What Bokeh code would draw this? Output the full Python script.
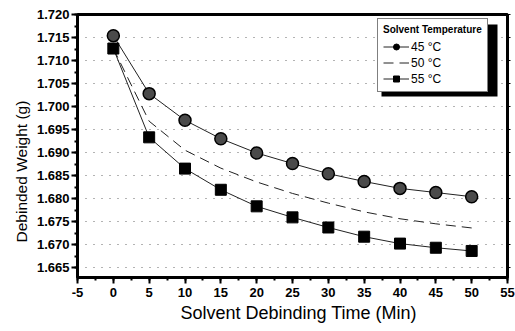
from bokeh.plotting import figure
from bokeh.models import (Range1d, LinearAxis, SingleIntervalTicker, NumeralTickFormatter, Legend,
                          LegendItem, BoxAnnotation, CustomJSTickFormatter, Title)
from bokeh.embed import file_html
from bokeh.resources import INLINE

time_min = [0, 5, 10, 15, 20, 25, 30, 35, 40, 45, 50]
w45 = [1.7154, 1.7028, 1.6970, 1.6930, 1.6899, 1.6876, 1.6854, 1.6837, 1.6822, 1.6813, 1.6804]
w50 = [1.7126, 1.6968, 1.6905, 1.6866, 1.6836, 1.6811, 1.6790, 1.6771, 1.6756, 1.6745, 1.6736]
w55 = [1.7126, 1.6933, 1.6865, 1.6819, 1.6783, 1.6759, 1.6737, 1.6717, 1.6702, 1.6693, 1.6686]
labels = ["45 °C", "50 °C", "55 °C"]
x_title = "Solvent Debinding Time (Min)"
y_title = "Debinded Weight (g)"

FONT = "Liberation Sans"
X0, X1, Y0, Y1 = -5, 55, 1.66283, 1.720
FL, FR, FT, FB = 77, 507, 14, 277  # frame in page pixels

p = figure(width=515, height=331, output_backend="svg", toolbar_location=None,
           x_range=Range1d(X0, X1), y_range=Range1d(Y0, Y1),
           min_border_left=FL, min_border_right=515 - FR, min_border_top=FT, min_border_bottom=331 - FB)

p.outline_line_color = "black"
p.outline_line_width = 3
p.background_fill_color = "white"

p.xgrid.visible = False
p.ygrid.grid_line_color = "#666666"
p.ygrid.grid_line_dash = "1 7"
p.ygrid.grid_line_width = 1

for ax in (p.xaxis[0], p.yaxis[0]):
    ax.axis_line_width = 3
    ax.major_tick_line_width = 2
    ax.minor_tick_line_width = 2
    ax.major_tick_out = 6
    ax.major_tick_in = 0
    ax.minor_tick_out = 3
    ax.minor_tick_in = 0
    ax.major_label_text_font = FONT
    ax.major_label_text_font_style = "bold"
    ax.major_label_text_font_size = "13px"
    ax.major_label_text_color = "black"

p.xaxis.ticker = SingleIntervalTicker(interval=5, num_minor_ticks=2)
p.xaxis.formatter = NumeralTickFormatter(format="0")
p.yaxis.ticker = SingleIntervalTicker(interval=0.005, num_minor_ticks=2)
p.yaxis.formatter = NumeralTickFormatter(format="0.000")
p.xaxis.major_label_standoff = 4
p.yaxis.major_label_standoff = 2

# axis titles as Title annotations so they can be offset like the reference
p.add_layout(Title(text=x_title, align="left", offset=180 - FL, standoff=3,
                   text_font=FONT, text_font_style="normal", text_font_size="18px",
                   text_color="black"), "below")
p.add_layout(Title(text=y_title, align="left", offset=FB - 242, standoff=7,
                   text_font=FONT, text_font_style="normal", text_font_size="15.5px",
                   text_color="black"), "left")

rax = LinearAxis(ticker=SingleIntervalTicker(interval=0.005, num_minor_ticks=2),
                 formatter=CustomJSTickFormatter(code="return ''"),
                 major_label_standoff=0, axis_line_width=3,
                 major_tick_out=3, major_tick_in=0, minor_tick_out=0, minor_tick_in=0,
                 major_tick_line_width=1)
p.add_layout(rax, "right")

# small markers used only for the legend swatches (hidden under the big markers)
s45 = p.scatter(time_min, w45, marker="circle", size=5, fill_color="black", line_color="black")
s55 = p.scatter(time_min, w55, marker="square", size=5, fill_color="black", line_color="black")

l45 = p.line(time_min, w45, line_color="#222222", line_width=1)
p.scatter(time_min, w45, marker="circle", size=12, fill_color="#4a4a4a", line_color="black", line_width=1.5)
l50 = p.line(time_min, w50, line_color="#222222", line_width=1, line_dash="10 6")
l55 = p.line(time_min, w55, line_color="#222222", line_width=1)
p.scatter(time_min, w55, marker="square", size=11, fill_color="black", line_color="black")

def px2x(px):
    return X0 + (px - FL) * (X1 - X0) / (FR - FL)

def py2y(py):
    return Y1 - (py - FT) * (Y1 - Y0) / (FB - FT)

shadow = BoxAnnotation(left=px2x(381), right=px2x(497), top=py2y(24), bottom=py2y(96),
                       fill_color="black", fill_alpha=1, line_color=None)
p.add_layout(shadow)

legend = Legend(items=[LegendItem(label=labels[0], renderers=[l45, s45]),
                       LegendItem(label=labels[1], renderers=[l50]),
                       LegendItem(label=labels[2], renderers=[l55, s55])],
                location=(377 - FL, FB - 92), title="Solvent Temperature",
                title_text_font=FONT, title_text_font_style="bold", title_text_font_size="10px",
                label_text_font=FONT, label_text_font_size="12px", label_text_font_style="normal",
                label_text_color="black", title_text_color="black",
                border_line_color="black", border_line_width=1.5, background_fill_alpha=1,
                glyph_width=26, glyph_height=15, label_height=15, spacing=1, padding=5,
                margin=0, label_standoff=2, title_standoff=4)
p.add_layout(legend)

open("out.html", "w").write(file_html(p, INLINE))
